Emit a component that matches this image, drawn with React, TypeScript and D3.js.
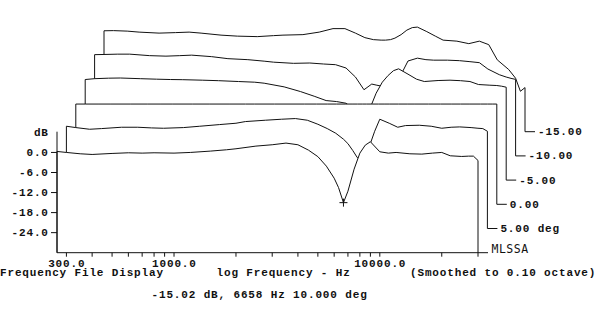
import { useEffect, useRef } from 'react';
import * as d3 from 'd3';

// frequency grid (Hz) shared by all traces
const freqs = [
  270, 300, 350, 400, 500, 600, 700, 800, 1000, 1200, 1500, 1800, 2000, 2500,
  3000, 3500, 4000, 4500, 5000, 5500, 6000, 6300, 6658, 7000, 7500, 8000, 8500,
  9000, 10000, 11000, 12000, 14000, 16000, 18000, 20000, 22000, 25000, 27000,
  28500, 30000,
];

// dB values, front trace first
const deg10 = [
  0.3, 0, -0.4, -0.6, -0.3, -0.1, -0.2, -0.1, -0.2, 0, 0.4, 0.8, 1.1, 1.9,
  2.3, 2.8, 2.3, 0.7, -1.25, -4.1, -7.7, -10.5, -15.02, -11.6, -5.0, -0.2, 2.2,
  3.2, 0.2, -0.2, 0, -0.4, -0.5, -0.2, 0, -1.0, -1.2, -1.1, -1.1, -2.4,
];
const deg5 = [
  0.6, 0.2, -0.3, -0.1, 0.3, 0.3, 0.1, 0, 0.2, 0.6, 1.1, 1.5, 2.0, 2.4,
  2.7, 2.9, 2.4, 1.2, -0.1, -1.5, -3.3, -4.6, -6.7, -8.8, -9.5, -5.5, -0.9,
  2.7, 1.5, 0.3, 0.8, 0.9, 0.6, 0, 0.3, 0.4, 0.2, 0, -0.1, -0.9,
];
const deg0 = freqs.map(() => 0);
const degM5 = [
  0.1, 0.35, 0.5, 0.55, 0.35, 0.2, 0.1, 0.05, -0.1, -0.25, -0.5, -0.7, -1.0, -2.1,
  -3.5, -4.9, -6.2, -6.5, -7.0, -9.0, -10.5, -10.3, -7.3, -4.0, -0.7, 1.3, 2.75,
  3.3, 1.7, 0.2, -0.5, -0.2, -0.1, -0.25, -0.5, -1.4, -1.6, -1.7, -1.9, -2.2,
];
const degM10 = [
  0.3, 0.35, 0.45, 0.45, 0, -0.15, 0, 0.15, -0.3, -0.9, -1.2, -1.65, -1.95, -2.3,
  -2.2, -2.5, -2.7, -3.7, -6.4, -10.2, -8.5, -8.8, -9.1, -9.7, -8.8, -6.7, -4.6,
  -1.6, -0.75, -1.2, -1.35, -1.35, -1.5, -1.8, -2.1, -4.0, -5.7, -6.4, -6.8, -7.1,
];
const degM15 = [
  0.2, 0.25, 0.1, -0.2, -0.5, -0.35, -0.2, -0.5, -1.1, -1.4, -1.55, -1.25, -1.1, -0.95,
  -0.2, 0.85, 0.85, -0.5, -1.85, -2.45, -2.6, -2.6, -2.45, -2.0, -0.95, 0.4, 1.15,
  1.3, -0.05, -1.4, -2.6, -2.9, -3.65, -2.9, -3.95, -8.5, -11.4, -14.0, -17.9, -16.8,
];

const traceLabels = ['', '5.00 deg', '0.00', '-5.00', '-10.00', '-15.00'];
const yTicks = [0, -6, -12, -18, -24];
const xTicks = [
  300, 400, 500, 600, 700, 800, 900, 1000, 2000, 3000, 4000, 5000, 6000, 7000,
  8000, 9000, 10000, 20000, 30000,
];
const xTickLabels = [300, 1000, 10000];
const cursorFreq = 6658;
const cursorDb = -15.02;

export default function App() {
  const svgRef = useRef<SVGSVGElement>(null);

  useEffect(() => {
    if (!svgRef.current) return;
    const svg = d3.select(svgRef.current);
    svg.selectAll('*').remove();

    const width = 600;
    const height = 328;
    const font = "'Liberation Mono', 'DejaVu Sans Mono', monospace";
    const ink = '#111';

    // DOS style text: short glyphs on a wide 7.45px cell
    const styleText = (sel: any) =>
      sel
        .attr('font-family', font)
        .attr('font-weight', 'bold')
        .attr('font-size', '11px')
        .attr('letter-spacing', '0.85px')
        .attr('fill', ink);

    const x = d3.scaleLog().domain([270, 30000]).range([57, 478]);
    const y = d3.scaleLinear().domain([-30, 6]).range([252.7, 132.4]);
    // waterfall step between traces
    const dx = 9.4;
    const dy = -24.2;

    svg.append('rect').attr('width', width).attr('height', height).attr('fill', '#fff');

    const traces = [deg10, deg5, deg0, degM5, degM10, degM15];
    const line = d3.line<[number, number]>();

    // back to front, white fill hides what is behind
    for (let k = traces.length - 1; k >= 0; k--) {
      const ox = k * dx;
      const oy = k * dy;
      const base = y(-30) + oy;
      const xl = x(freqs[0]) + ox;
      const xr = x(freqs[freqs.length - 1]) + ox;
      const pts: [number, number][] = freqs.map((f, i) => [x(f) + ox, y(traces[k][i]) + oy]);
      const outline: [number, number][] = [[xl, base], ...pts, [xr, base]];

      svg.append('path')
        .attr('d', line(outline) + 'Z')
        .attr('fill', '#fff')
        .attr('stroke', 'none');

      const stroke: [number, number][] = k === 0 ? outline : [...outline, [xr + 10, base]];
      svg.append('path')
        .attr('d', line(stroke))
        .attr('fill', 'none')
        .attr('stroke', ink)
        .attr('stroke-width', 1);

      if (traceLabels[k]) {
        svg.append('text')
          .attr('x', xr + 13)
          .attr('y', base + 3.5)
          .call(styleText)
          .text(traceLabels[k]);
      }
    }

    // cursor cross on the front trace
    const cx = x(cursorFreq);
    const cy = y(cursorDb);
    svg.append('path')
      .attr('d', `M${cx - 4},${cy}H${cx + 4}M${cx},${cy - 4}V${cy + 4}`)
      .attr('stroke', ink)
      .attr('stroke-width', 1);

    // axes
    const axisLeft = x.range()[0];
    const axisBottom = y(-30);
    svg.append('line')
      .attr('x1', axisLeft).attr('x2', axisLeft)
      .attr('y1', 131.7).attr('y2', axisBottom)
      .attr('stroke', ink);
    svg.append('line')
      .attr('x1', axisLeft).attr('x2', x.range()[1] + 10)
      .attr('y1', axisBottom).attr('y2', axisBottom)
      .attr('stroke', ink);

    svg.selectAll('.ytick')
      .data(yTicks)
      .join('line')
      .attr('x1', axisLeft - 6).attr('x2', axisLeft)
      .attr('y1', (d) => y(d)).attr('y2', (d) => y(d))
      .attr('stroke', ink);

    svg.selectAll('.ylab')
      .data(yTicks)
      .join('text')
      .attr('x', 48.8)
      .attr('y', (d) => y(d) + 3.5)
      .attr('text-anchor', 'end')
      .call(styleText)
      .text((d) => d.toFixed(1));

    svg.append('text')
      .attr('x', 48.8).attr('y', 135.5)
      .attr('text-anchor', 'end')
      .call(styleText)
      .text('dB');

    svg.selectAll('.xtick')
      .data(xTicks)
      .join('line')
      .attr('x1', (d) => x(d)).attr('x2', (d) => x(d))
      .attr('y1', axisBottom).attr('y2', axisBottom + 4)
      .attr('stroke', ink);

    svg.selectAll('.xlab')
      .data(xTickLabels)
      .join('text')
      .attr('x', (d) => x(d) + 0.4)
      .attr('y', 267.3)
      .attr('text-anchor', 'middle')
      .call(styleText)
      .text((d) => d.toFixed(1));

    svg.append('text')
      .attr('x', x.range()[1] + 13.5).attr('y', axisBottom)
      .attr('font-family', "'DejaVu Sans Mono', monospace")
      .attr('font-size', '11.5px')
      .attr('letter-spacing', '0.5px')
      .attr('fill', ink)
      .text('MLSSA');

    const footer = [
      { text: 'Frequency File Display', x: 0, y: 276 },
      { text: 'log Frequency - Hz', x: 216.5, y: 276 },
      { text: '(Smoothed to 0.10 octave)', x: 410, y: 276 },
      { text: '-15.02 dB, 6658 Hz 10.000 deg', x: 151.5, y: 297.5 },
    ];
    svg.selectAll('.foot')
      .data(footer)
      .join('text')
      .attr('x', (d) => d.x)
      .attr('y', (d) => d.y)
      .call(styleText)
      .text((d) => d.text);
  }, []);

  return (
    <svg
      ref={svgRef}
      width={600}
      height={328}
      style={{ position: 'absolute', left: 0, top: 0, display: 'block' }}
    ></svg>
  );
}
